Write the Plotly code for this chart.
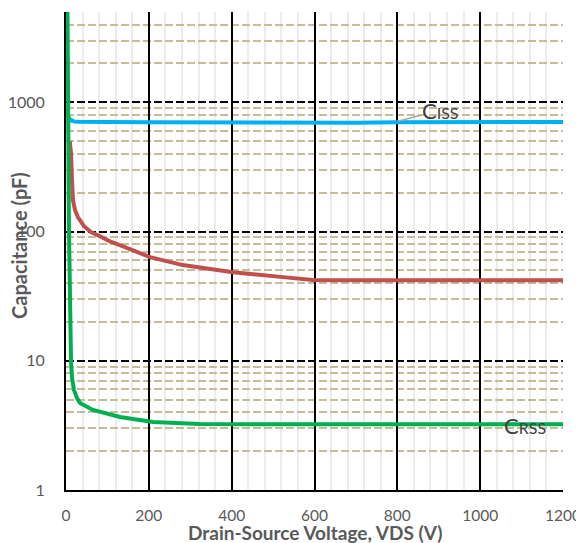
import math
import plotly.graph_objects as go

# ---- data ----
ciss_v = [0, 3, 6, 10, 15, 20, 30, 50, 100, 200, 300, 400, 500, 600, 700, 800, 900, 1000, 1100, 1200]
ciss_c = [900, 820, 770, 735, 718, 710, 706, 704, 703, 702, 700, 697, 693, 690, 695, 700, 703, 705, 705, 705]

coss_v = [9, 12.1, 14.5, 16.9, 21.7, 29, 43.5, 60, 82, 106, 130, 203, 282, 403, 524, 596, 700, 800, 900, 1000, 1100, 1200]
coss_c = [500, 404, 250, 175, 147, 129, 110, 99, 92, 84, 78.5, 63.4, 55, 48.5, 44.4, 42.1, 41.9, 42, 42, 42, 42, 42]

crss_v = [3, 3.6, 7.2, 10.4, 12.1, 14.5, 19.3, 26.6, 33.8, 65, 130, 210, 323, 500, 700, 900, 1100, 1200]
crss_c = [6000, 5000, 102, 17.3, 10, 7.35, 5.93, 5.14, 4.71, 4.16, 3.67, 3.36, 3.24, 3.22, 3.22, 3.22, 3.22, 3.22]

y_major = [1, 10, 100, 1000]
y_minor = [m * d for d in [1, 10, 100, 1000] for m in range(2, 10) if m * d <= 5000]
x_ticks = [0, 200, 400, 600, 800, 1000, 1200]

FONT = "Lato"
GRAY = "#595959"

fig = go.Figure()
fig.add_trace(go.Scatter(x=ciss_v, y=ciss_c, mode="lines", line=dict(color="#00b0f0", width=4), showlegend=False))
fig.add_trace(go.Scatter(x=coss_v, y=coss_c, mode="lines", line=dict(color="#c0504d", width=4), showlegend=False))
fig.add_trace(go.Scatter(x=crss_v, y=crss_c, mode="lines", line=dict(color="#00b050", width=4), showlegend=False))

# page body has an 8px margin, so the figure is reduced and shifted accordingly
fig.update_layout(
    width=576, height=535,
    margin=dict(l=58, r=21, t=4, b=53),
    plot_bgcolor="white", paper_bgcolor="white",
    font=dict(family=FONT, color=GRAY, size=16),
)

fig.update_xaxes(
    range=[0, 1200], tickvals=x_ticks, ticks="", ticklen=0,
    showgrid=True, gridcolor="black", gridwidth=2,
    minor=dict(dtick=40, showgrid=True, gridcolor="#ececec", gridwidth=2, ticks=""),
    showline=True, linecolor="black", linewidth=2,
    zeroline=False, ticklabelstandoff=10, automargin=False,
    tickfont=dict(size=15.5, color=GRAY, family=FONT),
)
fig.update_yaxes(
    type="log", range=[0, math.log10(5000)],
    tickvals=y_major, ticktext=[str(v) for v in y_major], ticks="",
    showgrid=True, gridcolor="black", gridwidth=2, griddash="8px,3px",
    minor=dict(tickmode="array", tickvals=y_minor, showgrid=True,
               gridcolor="#c4bd97", gridwidth=2, griddash="8px,3px", ticks=""),
    showline=True, linecolor="black", linewidth=2,
    zeroline=False, ticklabelstandoff=16, automargin=False,
    tickfont=dict(size=16, color=GRAY, family=FONT),
)

# axis titles
fig.add_annotation(text="<b>Drain-Source Voltage, VDS (V)</b>", xref="paper", yref="paper",
                   x=0.5, y=-0.088, xanchor="center", yanchor="middle", showarrow=False,
                   font=dict(size=19, color=GRAY, family=FONT))
fig.add_annotation(text="<b>Capacitance (pF)</b>", xref="paper", yref="paper",
                   x=-0.0946, y=0.5126, xanchor="center", yanchor="middle", textangle=-90,
                   showarrow=False, font=dict(size=20, color=GRAY, family=FONT))

# series labels
fig.add_annotation(text="C<span style='font-size:16px'>ISS</span>", x=801, y=math.log10(714),
                   xref="x", yref="y", ax=43, ay=-11, showarrow=True, arrowhead=0,
                   arrowwidth=1.5, arrowcolor="#a6a6a6", standoff=0,
                   font=dict(size=22, color="#404040", family=FONT))
fig.add_annotation(text="C<span style='font-size:16px'>RSS</span>", x=1108, y=math.log10(3.18),
                   xref="x", yref="y", showarrow=False, xanchor="center", yanchor="middle",
                   font=dict(size=22, color="#404040", family=FONT))

fig.write_html("out.html")
